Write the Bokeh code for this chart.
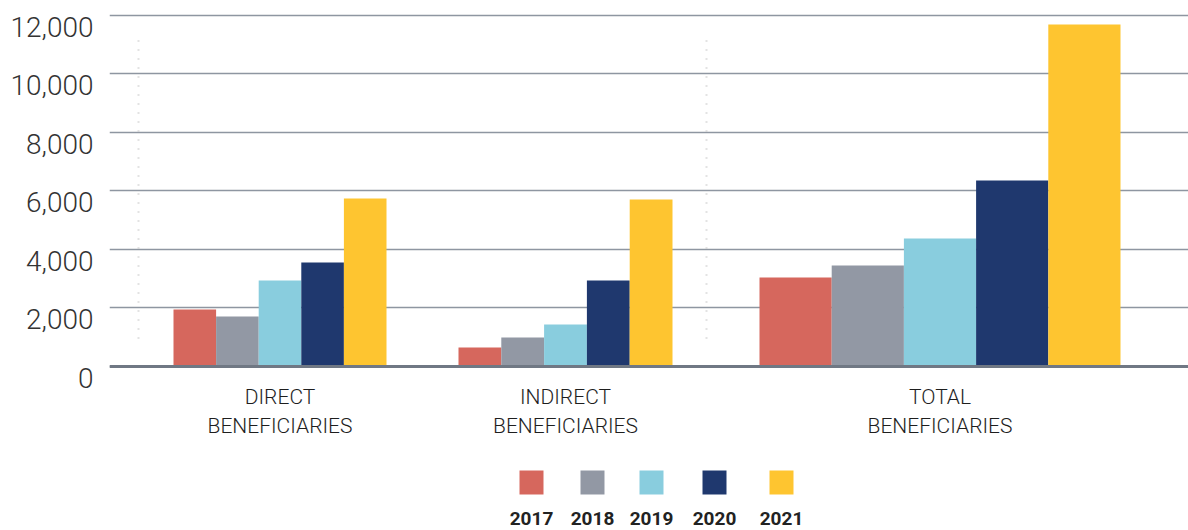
from bokeh.plotting import figure
from bokeh.models import Range1d, LinearAxis, FixedTicker, NumeralTickFormatter, Grid, Span, ColumnDataSource
from bokeh.core.properties import value
from bokeh.embed import file_html
from bokeh.resources import INLINE

# ---------------- data ----------------
CATEGORIES = ["DIRECT BENEFICIARIES", "INDIRECT BENEFICIARIES", "TOTAL BENEFICIARIES"]
YEARS = ["2017", "2018", "2019", "2020", "2021"]
V2017 = [1950, 650, 3040]
V2018 = [1710, 990, 3450]
V2019 = [2940, 1435, 4375]
V2020 = [3550, 2940, 6355]
V2021 = [5740, 5705, 11685]
Y_TICKS = [0, 2000, 4000, 6000, 8000, 10000, 12000]

SERIES = [V2017, V2018, V2019, V2020, V2021]
COLORS = ["#d6675d", "#9298a4", "#89cdde", "#1f386e", "#fec530"]

# ---------------- layout ----------------
W, H = 1188, 530
BORDER_LEFT = 109
FRAME_W = W - BORDER_LEFT
BASE_PX = 366            # pixel row of the value 0
K = 351.2 / 12000        # pixels per unit
LBL_SHIFT = 11.5         # tick labels sit a bit below their grid lines

def px_to_val(py, base=BASE_PX):
    return (base - py) / K

GROUP_CENTER = [170.5, 456, 830.5]
GROUP_WIDTH = [213, 214, 361]
DIVIDER_X = [29, 597]
LEGEND_X = [422, 483, 542, 605, 672]

p = figure(width=W, height=H, output_backend="svg", toolbar_location=None,
           x_range=Range1d(0, FRAME_W),
           y_range=Range1d(px_to_val(H), px_to_val(0)),
           x_axis_type=None, y_axis_type=None,
           min_border_left=BORDER_LEFT, min_border_right=0,
           min_border_top=0, min_border_bottom=0)
p.outline_line_color = None
p.background_fill_color = "white"
p.border_fill_color = "white"

# label axis range (shifted a little downward like the reference)
lbl_base = BASE_PX + LBL_SHIFT
p.extra_y_ranges = {"lbl": Range1d(px_to_val(H, lbl_base), px_to_val(0, lbl_base))}

grid = Grid(dimension=1, ticker=FixedTicker(ticks=Y_TICKS),
            grid_line_color="#8e96a1", grid_line_width=1.6)
p.add_layout(grid)

yaxis = LinearAxis(y_range_name="lbl", ticker=FixedTicker(ticks=Y_TICKS),
                   formatter=NumeralTickFormatter(format="0,0"),
                   axis_line_color=None, major_tick_line_color=None,
                   minor_tick_line_color=None, major_tick_in=0, major_tick_out=0,
                   major_label_standoff=16,
                   major_label_text_font="Roboto Light",
                   major_label_text_font_size="28px",
                   major_label_text_color="#333333")
p.add_layout(yaxis, "left")

# dotted dividers
p.segment(x0=DIVIDER_X, x1=DIVIDER_X, y0=[px_to_val(338)] * 2, y1=[px_to_val(32)] * 2,
          line_color="#c8c8c8", line_width=2, line_dash="1 8")

# bars
for j, (vals, col) in enumerate(zip(SERIES, COLORS)):
    xs = [c + (j - 2) * w / 5 for c, w in zip(GROUP_CENTER, GROUP_WIDTH)]
    ws = [w / 5 for w in GROUP_WIDTH]
    src = ColumnDataSource(dict(x=xs, top=vals, w=ws))
    p.vbar(x="x", top="top", bottom=0, width="w", source=src,
           fill_color=col, line_color=None)

# baseline
p.add_layout(Span(location=0, dimension="width", line_color="#707884", line_width=3))

# category labels
line1 = [c.split(" ")[0] for c in CATEGORIES]
line2 = [c.split(" ")[1] for c in CATEGORIES]
cat_font = dict(text_align="center", text_baseline="middle",
                text_font=value("Roboto Light"), text_font_size="21px",
                text_color="#1e1e1e")
p.text(x=GROUP_CENTER, y=[px_to_val(396)] * 3, text=line1, **cat_font)
p.text(x=GROUP_CENTER, y=[px_to_val(425)] * 3, text=line2, **cat_font)

# legend
p.rect(x=LEGEND_X, y=[px_to_val(482)] * 5, width=24, height=24,
       width_units="screen", height_units="screen",
       fill_color=COLORS, line_color=None)
p.text(x=LEGEND_X, y=[px_to_val(518)] * 5, text=YEARS,
       text_align="center", text_baseline="middle",
       text_font=value("Roboto"), text_font_style="bold",
       text_font_size="19px", text_color="#222222")

open("out.html", "w").write(file_html(p, INLINE))
